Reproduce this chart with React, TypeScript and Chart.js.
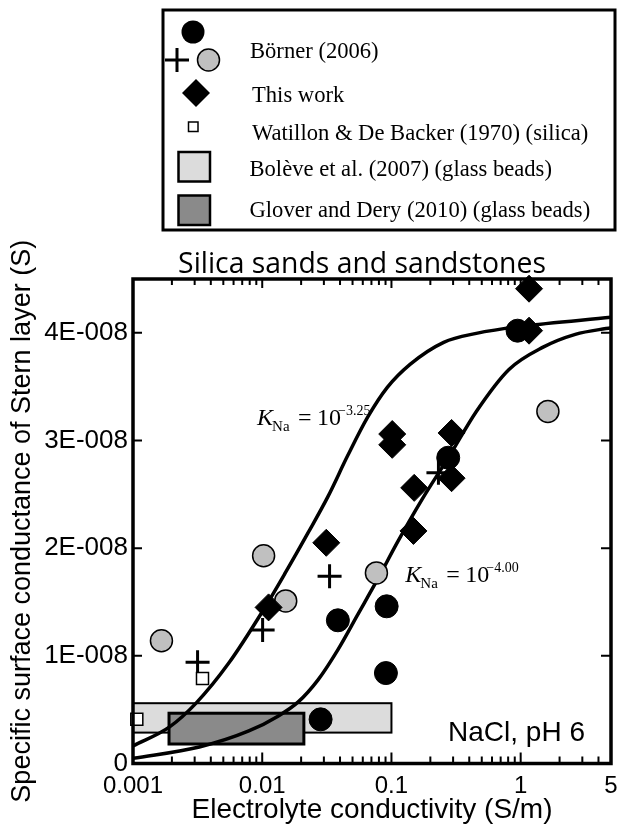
import React, { useEffect, useRef } from 'react';
import { Chart, registerables } from 'chart.js';

Chart.register(...registerables);

// ---------- axis ranges & ticks ----------
const X_MIN = 0.001;
const X_MAX = 5;
const Y_MIN = 0;
const Y_MAX = 4.5e-8;

const X_TICKS = [
  0.001, 0.002, 0.003, 0.004, 0.005, 0.006, 0.007, 0.008, 0.009,
  0.01, 0.02, 0.03, 0.04, 0.05, 0.06, 0.07, 0.08, 0.09,
  0.1, 0.2, 0.3, 0.4, 0.5, 0.6, 0.7, 0.8, 0.9,
  1, 2, 3, 4, 5,
];
const X_MAJOR = [0.001, 0.01, 0.1, 1];
const X_LABEL_VALUES = [0.001, 0.01, 0.1, 1, 5];
const X_LABELS = ['0.001', '0.01', '0.1', '1', '5'];
const Y_TICKS = [0, 1e-8, 2e-8, 3e-8, 4e-8];
const Y_LABELS = ['0', '1E-008', '2E-008', '3E-008', '4E-008'];

// ---------- data ----------
const BORNER_BLACK_X = [0.0283, 0.0385, 0.0918, 0.0906, 0.275, 0.946];
const BORNER_BLACK_Y = [0.41e-8, 1.33e-8, 1.46e-8, 0.84e-8, 2.84e-8, 4.02e-8];

const BORNER_GRAY_X = [0.00166, 0.01025, 0.0152, 0.0765, 1.624];
const BORNER_GRAY_Y = [1.14e-8, 1.93e-8, 1.51e-8, 1.77e-8, 3.27e-8];

const BORNER_CROSS_X = [0.00316, 0.01007, 0.0332, 0.231];
const BORNER_CROSS_Y = [0.94e-8, 1.24e-8, 1.74e-8, 2.7e-8];

const THIS_WORK_X = [0.0112, 0.0313, 0.1014, 0.1014, 0.292, 0.292, 0.15, 0.148, 1.161, 1.161];
const THIS_WORK_Y = [1.45e-8, 2.05e-8, 3.06e-8, 2.96e-8, 3.07e-8, 2.65e-8, 2.56e-8, 2.16e-8, 4.41e-8, 4.02e-8];

const WATILLON_X = [0.00345, 0.00107];
const WATILLON_Y = [0.79e-8, 0.41e-8];

const BOLEVE_X = [0.001, 0.1];
const BOLEVE_Y = [0.287e-8, 0.56e-8];

const GLOVER_X = [0.0019, 0.021];
const GLOVER_Y = [0.181e-8, 0.467e-8];

const CURVE_325_X = [0.001, 0.00192, 0.00309, 0.00553, 0.0099, 0.01511, 0.02266, 0.03224, 0.04588, 0.06528, 0.09287, 0.1393, 0.2537, 0.4539, 1.0, 5];
const CURVE_325_Y = [0.163e-8, 0.34e-8, 0.563e-8, 0.935e-8, 1.4e-8, 1.772e-8, 2.144e-8, 2.479e-8, 2.86e-8, 3.214e-8, 3.493e-8, 3.707e-8, 3.912e-8, 3.995e-8, 4.06e-8, 4.144e-8];

const CURVE_400_X = [0.001, 0.00326, 0.00787, 0.01335, 0.019, 0.02703, 0.03846, 0.0547, 0.07784, 0.1108, 0.1721, 0.2819, 0.4539, 0.812, 1.479, 2.647, 5];
const CURVE_400_Y = [0.048e-8, 0.153e-8, 0.302e-8, 0.442e-8, 0.572e-8, 0.777e-8, 1.056e-8, 1.381e-8, 1.707e-8, 2.051e-8, 2.451e-8, 2.86e-8, 3.27e-8, 3.66e-8, 3.865e-8, 3.986e-8, 4.048e-8];

// annotation anchors (data coords of the "K")
const ANN_325 = { x: 0.00912, y: 3.14e-8, sup: '\u22123.25' };
const ANN_400 = { x: 0.128, y: 1.69e-8, sup: '\u22124.00' };

const TITLE = 'Silica sands and sandstones';
const X_TITLE = 'Electrolyte conductivity (S/m)';
const Y_TITLE = 'Specific surface conductance of Stern layer (S)';
const CONDITION = 'NaCl, pH 6';
const LEGEND_LABELS = [
  'B\u00f6rner (2006)',
  'This work',
  'Watillon & De Backer (1970) (silica)',
  'Bol\u00e8ve et al. (2007) (glass beads)',
  'Glover and Dery (2010) (glass beads)',
];

const SANS = '"Liberation Sans", Arial, sans-serif';
const SERIF = '"Liberation Serif", "Times New Roman", serif';

const pts = (xs: number[], ys: number[]) => xs.map((x, i) => ({ x, y: ys[i] }));

function drawBand(ctx: any, xs: any, ys: any, bx: number[], by: number[], fill: string, lw: number) {
  const x0 = xs.getPixelForValue(bx[0]);
  const x1 = xs.getPixelForValue(bx[1]);
  const y0 = ys.getPixelForValue(by[1]);
  const y1 = ys.getPixelForValue(by[0]);
  ctx.save();
  ctx.fillStyle = fill;
  ctx.fillRect(x0, y0, x1 - x0, y1 - y0);
  ctx.lineWidth = lw;
  ctx.strokeStyle = '#000';
  ctx.strokeRect(x0, y0, x1 - x0, y1 - y0);
  ctx.restore();
}

function drawK(ctx: any, px: number, py: number, sup: string) {
  ctx.save();
  ctx.fillStyle = '#000';
  ctx.textAlign = 'left';
  ctx.textBaseline = 'alphabetic';
  ctx.font = `italic 24px ${SERIF}`;
  ctx.fillText('K', px, py);
  ctx.font = `15px ${SERIF}`;
  ctx.fillText('Na', px + 15, py + 6);
  ctx.font = `24px ${SERIF}`;
  ctx.fillText('=', px + 41, py);
  ctx.fillText('10', px + 60, py);
  ctx.font = `14px ${SERIF}`;
  ctx.fillText(sup, px + 81, py - 10);
  ctx.restore();
}

const decor = {
  id: 'decor',
  beforeDatasetsDraw(chart: any) {
    const { ctx, scales } = chart;
    drawBand(ctx, scales.x, scales.y, BOLEVE_X, BOLEVE_Y, '#dcdcdc', 2);
    drawBand(ctx, scales.x, scales.y, GLOVER_X, GLOVER_Y, '#8a8a8a', 3);
  },
  afterDatasetsDraw(chart: any) {
    const { ctx, chartArea: a, scales } = chart;
    const xs = scales.x;
    const ys = scales.y;
    ctx.save();
    ctx.strokeStyle = '#000';
    ctx.lineWidth = 2;
    ctx.beginPath();
    X_TICKS.forEach((v) => {
      const px = xs.getPixelForValue(v);
      const major = X_MAJOR.includes(v);
      ctx.moveTo(px, a.bottom);
      ctx.lineTo(px, a.bottom - (major ? 11 : 7));
      ctx.moveTo(px, a.top);
      ctx.lineTo(px, a.top + (major ? 9 : 6));
    });
    Y_TICKS.forEach((v) => {
      if (v === 0) return;
      const py = ys.getPixelForValue(v);
      ctx.moveTo(a.left, py);
      ctx.lineTo(a.left + 9, py);
      ctx.moveTo(a.right, py);
      ctx.lineTo(a.right - 10, py);
    });
    ctx.stroke();
    ctx.lineWidth = 3.5;
    ctx.strokeRect(a.left, a.top, a.right - a.left, a.bottom - a.top);
    ctx.restore();

    drawK(ctx, xs.getPixelForValue(ANN_325.x), ys.getPixelForValue(ANN_325.y), ANN_325.sup);
    drawK(ctx, xs.getPixelForValue(ANN_400.x), ys.getPixelForValue(ANN_400.y), ANN_400.sup);

    ctx.save();
    ctx.fillStyle = '#000';
    ctx.font = `28px ${SANS}`;
    ctx.textAlign = 'right';
    ctx.textBaseline = 'alphabetic';
    ctx.fillText(CONDITION, a.right - 26, a.bottom - 23);
    ctx.restore();
  },
  afterDraw(chart: any) {
    const { ctx, chartArea: a } = chart;
    ctx.save();
    // title
    ctx.fillStyle = '#000';
    ctx.font = `28px "Open Sans", ${SANS}`;
    const w = ctx.measureText(TITLE).width;
    const size = (28 * 368) / w;
    ctx.font = `${size}px "Open Sans", ${SANS}`;
    ctx.textAlign = 'center';
    ctx.textBaseline = 'alphabetic';
    ctx.fillText(TITLE, a.left + (a.right - a.left) / 2 - 10, a.top - 6);

    // legend box
    ctx.lineWidth = 3;
    ctx.strokeStyle = '#000';
    ctx.strokeRect(163, 10, 452, 220);

    // black circle
    ctx.beginPath();
    ctx.arc(193, 32, 11.5, 0, Math.PI * 2);
    ctx.fillStyle = '#000';
    ctx.fill();
    // cross
    ctx.beginPath();
    ctx.lineWidth = 3;
    ctx.moveTo(165, 60);
    ctx.lineTo(189, 60);
    ctx.moveTo(177, 48);
    ctx.lineTo(177, 72);
    ctx.stroke();
    // gray circle
    ctx.beginPath();
    ctx.arc(208.5, 60, 11, 0, Math.PI * 2);
    ctx.fillStyle = '#c0c0c0';
    ctx.fill();
    ctx.lineWidth = 1.5;
    ctx.stroke();
    // diamond
    ctx.beginPath();
    ctx.moveTo(196, 79);
    ctx.lineTo(210, 93);
    ctx.lineTo(196, 107);
    ctx.lineTo(182, 93);
    ctx.closePath();
    ctx.fillStyle = '#000';
    ctx.fill();
    // small square
    ctx.fillStyle = '#fff';
    ctx.fillRect(188.5, 122, 9.5, 9.5);
    ctx.lineWidth = 1.5;
    ctx.strokeRect(188.5, 122, 9.5, 9.5);
    // light rect
    ctx.fillStyle = '#dcdcdc';
    ctx.fillRect(178.5, 152, 31.5, 29.5);
    ctx.lineWidth = 2.5;
    ctx.strokeRect(178.5, 152, 31.5, 29.5);
    // dark rect
    ctx.fillStyle = '#8a8a8a';
    ctx.fillRect(178.5, 195.5, 31.5, 29.5);
    ctx.strokeRect(178.5, 195.5, 31.5, 29.5);

    ctx.fillStyle = '#000';
    ctx.font = `22.6px ${SERIF}`;
    ctx.textAlign = 'left';
    const rows = [[250, 57.5], [252, 101.5], [252, 140], [249.5, 176], [249.5, 216.5]];
    LEGEND_LABELS.forEach((t, i) => ctx.fillText(t, rows[i][0], rows[i][1]));
    ctx.restore();
  },
};

export default function App() {
  const ref = useRef<HTMLCanvasElement | null>(null);
  useEffect(() => {
    if (!ref.current) return;
    Chart.defaults.font.family = SANS;
    Chart.defaults.color = '#000';
    const chart = new Chart(ref.current, {
      type: 'scatter',
      data: {
        datasets: [
          {
            label: 'Börner (2006) black',
            data: pts(BORNER_BLACK_X, BORNER_BLACK_Y),
            pointStyle: 'circle',
            pointRadius: 11.5,
            backgroundColor: '#000',
            borderColor: '#000',
            borderWidth: 1,
            clip: false,
            order: 1,
          },
          {
            label: 'This work',
            data: pts(THIS_WORK_X, THIS_WORK_Y),
            pointStyle: 'rectRot',
            pointRadius: 13.5,
            backgroundColor: '#000',
            borderColor: '#000',
            borderWidth: 1,
            clip: false,
            order: 1,
          },
          {
            label: 'Börner (2006) gray',
            data: pts(BORNER_GRAY_X, BORNER_GRAY_Y),
            pointStyle: 'circle',
            pointRadius: 11,
            backgroundColor: '#c0c0c0',
            borderColor: '#000',
            borderWidth: 1.5,
            clip: false,
            order: 2,
          },
          {
            label: 'Watillon & De Backer (1970)',
            data: pts(WATILLON_X, WATILLON_Y),
            pointStyle: 'rect',
            pointRadius: 8.5,
            backgroundColor: '#fff',
            borderColor: '#000',
            borderWidth: 1.5,
            clip: false,
            order: 2,
          },
          {
            label: 'Börner (2006) cross',
            data: pts(BORNER_CROSS_X, BORNER_CROSS_Y),
            pointStyle: 'cross',
            pointRadius: 12,
            borderColor: '#000',
            borderWidth: 3,
            clip: false,
            order: 3,
          },
          {
            label: 'K = 10^-3.25',
            data: pts(CURVE_325_X, CURVE_325_Y),
            showLine: true,
            pointRadius: 0,
            borderColor: '#000',
            borderWidth: 3.5,
            cubicInterpolationMode: 'monotone',
            order: 4,
          },
          {
            label: 'K = 10^-4.00',
            data: pts(CURVE_400_X, CURVE_400_Y),
            showLine: true,
            pointRadius: 0,
            borderColor: '#000',
            borderWidth: 3.5,
            cubicInterpolationMode: 'monotone',
            order: 4,
          },
        ] as any,
      },
      options: {
        responsive: false,
        animation: false,
        devicePixelRatio: 1,
        events: [],
        layout: { padding: { top: 279, right: 10, left: 0, bottom: 0 } },
        plugins: { legend: { display: false }, tooltip: { enabled: false } },
        scales: {
          x: {
            type: 'logarithmic',
            min: X_MIN,
            max: X_MAX,
            grid: { display: false, drawTicks: false },
            border: { display: false },
            afterBuildTicks: (s: any) => {
              s.ticks = X_TICKS.map((v) => ({ value: v }));
            },
            afterFit: (s: any) => {
              s.height = 67.5;
            },
            ticks: {
              autoSkip: false,
              maxRotation: 0,
              padding: 8,
              font: { size: 24 },
              color: '#000',
              callback: (v: any) => {
                const i = X_LABEL_VALUES.indexOf(Number(v));
                return i >= 0 ? X_LABELS[i] : '';
              },
            },
            title: {
              display: true,
              text: X_TITLE,
              font: { size: 28 },
              color: '#000',
              padding: { top: 0, bottom: 4 },
            },
          },
          y: {
            type: 'linear',
            min: Y_MIN,
            max: Y_MAX,
            grid: { display: false, drawTicks: false },
            border: { display: false },
            afterBuildTicks: (s: any) => {
              s.ticks = Y_TICKS.map((v) => ({ value: v }));
            },
            afterFit: (s: any) => {
              s.width = 133;
            },
            ticks: {
              padding: 5,
              font: { size: 26 },
              color: '#000',
              callback: (v: any) => {
                const i = Y_TICKS.indexOf(Number(v));
                return i >= 0 ? Y_LABELS[i] : '';
              },
            },
            title: {
              display: true,
              text: Y_TITLE,
              font: { size: 27 },
              color: '#000',
              padding: { top: 6, bottom: 0 },
            },
          },
        },
      } as any,
      plugins: [decor],
    });
    return () => chart.destroy();
  }, []);
  return (
    <div style={{ position: 'absolute', left: 0, top: 0, width: 626, height: 831, background: '#fff' }}>
      <canvas ref={ref} width={626} height={831} style={{ display: 'block' }} />
    </div>
  );
}
